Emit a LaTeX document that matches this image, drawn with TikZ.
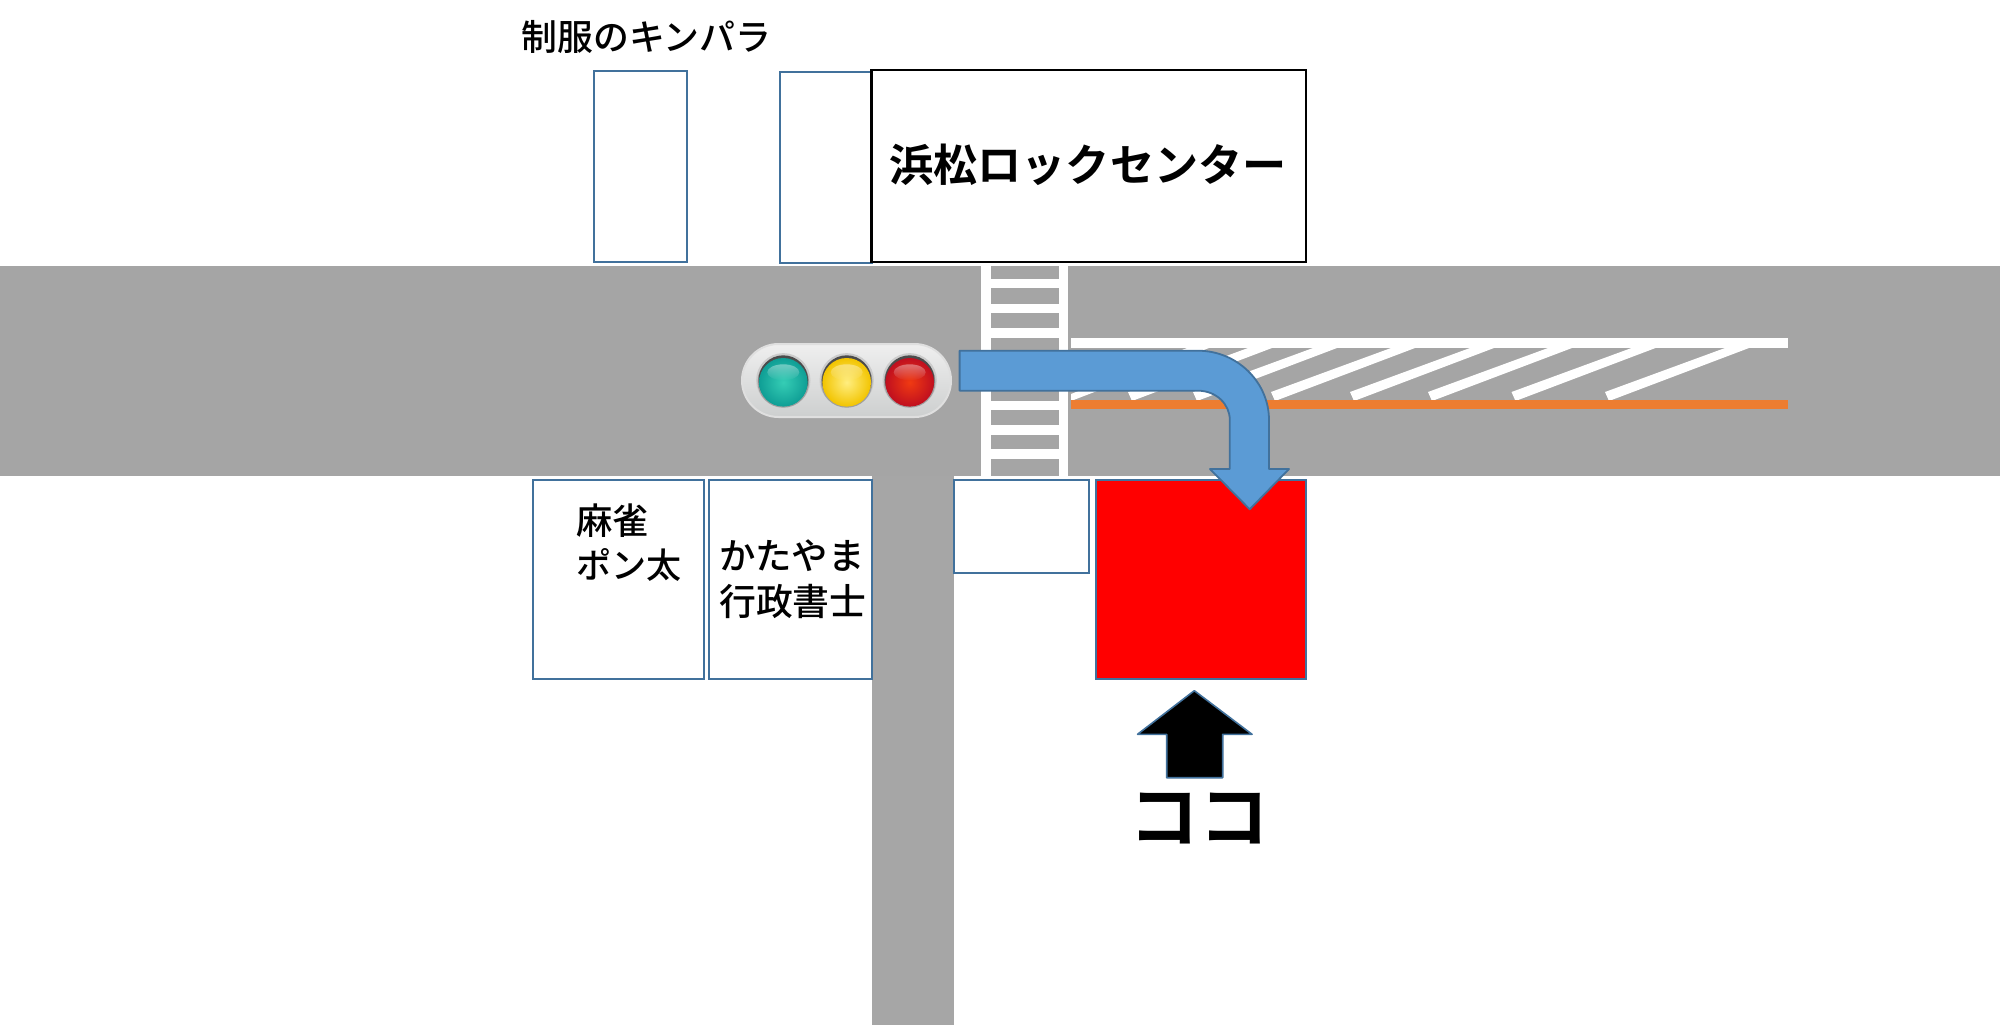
\documentclass[tikz,border=0pt]{standalone}
\usepackage{fontspec}
\newfontfamily\cjk{Noto Sans CJK JP Medium}
\newfontfamily\cjkb{Noto Sans CJK JP Bold}
\usetikzlibrary{fadings}
\definecolor{roadgray}{HTML}{A5A5A5}
\definecolor{roadgrayb}{HTML}{A6A6A6}
\definecolor{boxblue}{HTML}{41719C}
\definecolor{arrowblue}{HTML}{5B9BD5}
\definecolor{stripeorange}{HTML}{ED7D31}
\definecolor{greenedge}{HTML}{0F9E95}
\definecolor{greenmid}{HTML}{35CDB5}
\definecolor{yellowedge}{HTML}{F2C400}
\definecolor{yellowmid}{HTML}{FFEE80}
\definecolor{rededge}{HTML}{C00F1F}
\definecolor{redmid}{HTML}{F03A12}
\definecolor{pilltop}{HTML}{EFEFEF}
\definecolor{pillbot}{HTML}{CDCFCF}
\tikzset{
  x=1bp,y=-1bp,
  road/.style={fill=roadgray,draw=none},
  whitebar/.style={fill=white,draw=none},
  shop/.style={draw=boxblue,line width=2bp,fill=white},
  jlabel/.style={font=\cjk\fontsize{36}{36}\selectfont,inner sep=0pt,text=black},
}
\newcommand{\stripe}[1]{\fill[white] (#1-4,392) -- (#1,401) -- (#1+140,348) -- (#1+116,348) -- cycle;}
\newcommand{\lamp}[4]{%
  \fill[gray!40] (#1,#2) circle (27.2);
  \fill[gray!75] (#1,#2+1.6) circle (25.8);
  \fill[black!70] (#1,#2-.2) circle (24.8);
  \shade[inner color=#4,outer color=#3] (#1,#2+2) circle (24.3);
  \fill[white,opacity=.38,path fading=south] (#1,#2-8) ellipse (16 and 8);
}
\begin{document}
\begin{tikzpicture}
\useasboundingbox (0,0) rectangle (2000,1025);
\fill[white] (0,0) rectangle (2000,1025);
% roads
\fill[road] (0,266) rectangle (2000,476);
\fill[roadgrayb] (872,476) rectangle (954,1025);
% crosswalk
\fill[whitebar] (981,266) rectangle (991,476);
\fill[whitebar] (1059,266) rectangle (1068,476);
\foreach \ya/\yb in {278.7/288,303.7/313,327.7/338,352/362,376/386,400.7/410,424.7/435,449/459}
  \fill[whitebar] (991,\ya) rectangle (1059,\yb);
% zebra stripes
\fill[white] (1071,394) -- (1071,401) -- (1209,348) -- (1187,348) -- cycle;
\foreach \s in {1132,1197,1275,1354,1432,1515.5,1609} {\stripe{\s}}
\fill[whitebar] (1071,338) rectangle (1788,348);
\fill[stripeorange] (1071,400) rectangle (1788,409);
% buildings
\draw[shop] (593.7,70.7) rectangle (686.6,262.3);
\draw[shop] (779.6,71.7) rectangle (872,263.3);
\draw[fill=white,draw=black,line width=2.2bp] (871.5,69.7) rectangle (1306,262);
\draw[shop] (532.5,480) rectangle (704,679);
\draw[shop] (708.7,480) rectangle (872,679);
\draw[shop] (954,480) rectangle (1089,573);
\draw[shop,fill=red] (1096,480) rectangle (1305.6,679);
% labels
\node[jlabel] (t1) at (646.5,37) {制服のキンパラ};
\node[inner sep=0pt,font=\cjkb\fontsize{44.3}{44.3}\selectfont] (t2) at (1088,165) {浜松ロックセンター};
\node[jlabel,anchor=west,font=\cjk\fontsize{36.5}{36.5}\selectfont] (t3) at (576,521) {麻雀};
\node[jlabel,anchor=west,font=\cjk\fontsize{35.2}{35.2}\selectfont] (t4) at (576,565) {ポン太};
\node[jlabel,anchor=west,font=\cjk\fontsize{36.5}{36.5}\selectfont] (t5) at (719,556) {かたやま};
\node[jlabel,anchor=west,font=\cjk\fontsize{37}{37}\selectfont] (t6) at (719,601) {行政書士};
\node[inner sep=0pt,font=\cjkb\fontsize{70}{70}\selectfont] (t7) at (1199,818) {ココ};
% traffic light
\draw[line width=2bp,draw=gray!25,top color=pilltop,bottom color=pillbot,rounded corners=36.5bp]
  (742,344) rectangle (951,417);
\lamp{783.3}{380.3}{greenedge}{greenmid}
\lamp{846.7}{380.3}{yellowedge}{yellowmid}
\lamp{909.7}{380.3}{rededge}{redmid}
% turn arrow
\draw[draw=boxblue,line width=1.8bp,fill=arrowblue,line join=round]
  (959.6,350.7) -- (1198,350.7)
  .. controls (1237,350.7) and (1269,382) .. (1269,420)
  -- (1269,469) -- (1289,469) -- (1249.7,509.3) -- (1210,469) -- (1229.8,469) -- (1229.8,420)
  .. controls (1229.8,404) and (1216,390.7) .. (1198,390.7)
  -- (959.6,390.7) -- cycle;
% here arrow
\draw[draw=boxblue,line width=1.6bp,fill=black,line join=round]
  (1194.3,690.7) -- (1252,734.3) -- (1222.7,734.3) -- (1222.7,777.7) -- (1166.7,777.7) -- (1166.7,734.3) -- (1137.5,734.3) -- cycle;
\end{tikzpicture}
\end{document}
